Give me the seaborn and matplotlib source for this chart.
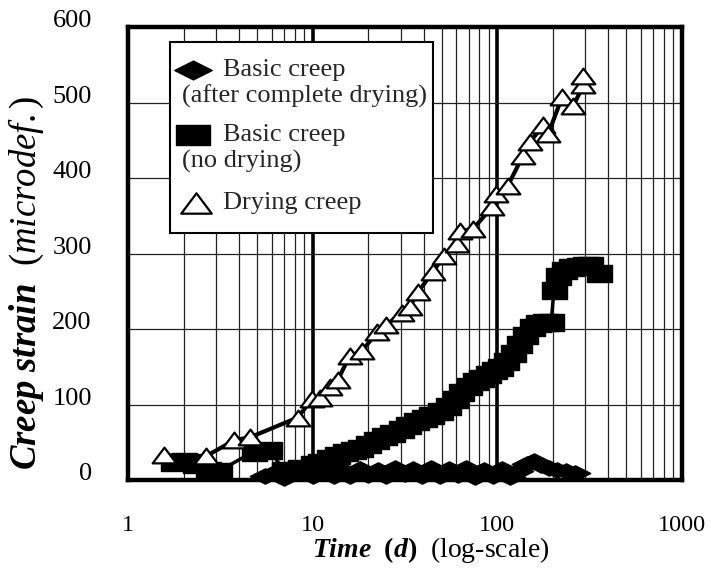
import numpy as np
import pandas as pd
import matplotlib
matplotlib.use("Agg")
import matplotlib.pyplot as plt
from matplotlib.path import Path
from matplotlib.patches import Rectangle
from matplotlib.ticker import FixedLocator, FixedFormatter, NullFormatter, LogLocator
import seaborn as sns

# drying creep (triangles)
dry_t = [1.57, 2.65, 3.77, 4.6, 8.3, 9.9, 10.9, 12.4, 13.7, 15.9, 18.5, 22.3, 24.9,
         30.4, 33.6, 37.2, 44.8, 51.5, 60.7, 63, 74, 94, 98, 114, 138, 150, 178,
         189, 225, 258, 293, 293]
dry_v = [33, 32, 53, 57, 83, 107, 109, 124, 133, 165, 171, 196, 205,
         222, 230, 249, 276, 297, 313, 330, 333, 362, 379, 390, 430, 448, 470,
         459, 508, 496, 523, 535]

# basic creep, no drying (squares)
nod_t = [1.75, 2.0, 2.3, 2.7, 3.1, 4.8, 5.8, 7.0, 8.5, 10, 11, 12.2, 13.5, 15, 16.5,
         18, 20, 22, 24.5, 27, 30, 33, 36.5, 40, 44, 49, 54, 59, 64, 70, 76, 82,
         89, 96, 104, 112, 121, 131, 142, 154, 167, 181, 196, 203, 213, 230, 250,
         276, 300, 320, 354]
nod_v = [24, 26, 21, 14, 12, 38, 40, 14, 16, 21, 24, 29, 34, 37, 40,
         43, 48, 53, 58, 63, 68, 73, 78, 82, 86, 92, 99, 107, 117, 125, 131, 136,
         141, 146, 150, 158, 169, 181, 193, 203, 208, 209, 210, 252, 271, 278, 282,
         284, 285, 285, 274]

# basic creep after complete drying (diamonds)
aft_t = [5.5, 6.2, 7, 8, 9, 10, 11.5, 13, 14.5, 16, 18, 20, 22.5, 25, 28, 31.5, 35,
         39, 44, 49, 55, 61, 68, 76, 85, 95, 106, 118, 130, 145, 158, 172, 190,
         210, 235, 265]
aft_v = [5, 9, 3, 10, 12, 5, 13, 6, 14, 5, 15, 7, 14, 6, 16, 8, 15, 6, 16, 5, 15, 7,
         16, 4, 14, 6, 15, 4, 12, 22, 26, 20, 16, 14, 12, 9]

y_ticks = [0, 100, 200, 300, 400, 500, 600]
x_ticks = [1, 10, 100, 1000]
x_labels = ["1", "10", "100", "1000"]

legend_lines = [
    ("Basic creep", "(after complete drying)"),
    ("Basic creep", "(no drying)"),
    ("Drying creep", None),
]

tri = Path([(-1.5, -1), (1.5, -1), (0, 1), (-1.5, -1)],
           [Path.MOVETO, Path.LINETO, Path.LINETO, Path.CLOSEPOLY])
dia = Path([(-1, 0), (0, 0.5), (1, 0), (0, -0.5), (-1, 0)],
           [Path.MOVETO, Path.LINETO, Path.LINETO, Path.LINETO, Path.CLOSEPOLY])
rect = Path([(-1, -0.68), (1, -0.68), (1, 0.68), (-1, 0.68), (-1, -0.68)],
            [Path.MOVETO, Path.LINETO, Path.LINETO, Path.LINETO, Path.CLOSEPOLY])
rect_leg = Path([(-1, -0.55), (1, -0.55), (1, 0.55), (-1, 0.55), (-1, -0.55)],
                [Path.MOVETO, Path.LINETO, Path.LINETO, Path.LINETO, Path.CLOSEPOLY])

sns.set_theme(style="white")
plt.rcParams["font.family"] = ["Liberation Serif", "DejaVu Serif"]
plt.rcParams["mathtext.fontset"] = "custom"
plt.rcParams["mathtext.rm"] = "Liberation Serif"
plt.rcParams["mathtext.it"] = "Liberation Serif:italic"
plt.rcParams["mathtext.bf"] = "Liberation Serif:bold"
plt.rcParams["mathtext.bfit"] = "Liberation Serif:italic:bold"

fig = plt.figure(figsize=(7.11, 5.69), dpi=100)
ax = fig.add_axes([0.18, 0.156, 0.779, 0.796])

dry = pd.DataFrame({"t": dry_t, "v": dry_v})
nod = pd.DataFrame({"t": nod_t, "v": nod_v})
aft = pd.DataFrame({"t": aft_t, "v": aft_v})

sns.lineplot(data=aft, x="t", y="v", ax=ax, sort=False, estimator=None,
             color="black", lw=2.5, marker=dia, markersize=22,
             markerfacecolor="black", markeredgecolor="black",
             markeredgewidth=1, clip_on=False, zorder=4)
sns.lineplot(data=nod, x="t", y="v", ax=ax, sort=False, estimator=None,
             color="black", lw=2.5, marker=rect, markersize=18,
             markerfacecolor="black", markeredgecolor="black",
             markeredgewidth=1, zorder=5)
sns.lineplot(data=dry, x="t", y="v", ax=ax, sort=False, estimator=None,
             color="black", lw=3, marker=tri, markersize=17,
             markerfacecolor="white", markeredgecolor="black",
             markeredgewidth=1.6, zorder=6)

ax.set_xscale("log")
ax.set_xlim(1, 1000)
ax.set_ylim(0, 600)

ax.xaxis.set_major_locator(FixedLocator(x_ticks))
ax.xaxis.set_major_formatter(FixedFormatter(x_labels))
ax.xaxis.set_minor_locator(LogLocator(base=10, subs=np.arange(2, 10)))
ax.xaxis.set_minor_formatter(NullFormatter())
ax.set_yticks(y_ticks)
ax.set_yticks(np.arange(50, 600, 100), minor=True)

ax.grid(which="major", axis="x", color="black", lw=2.6, zorder=0)
ax.grid(which="minor", axis="x", color="#222222", lw=0.9, zorder=0)
ax.grid(which="major", axis="y", color="#222222", lw=0.9, zorder=0)
ax.set_axisbelow(True)

ax.tick_params(axis="y", which="major", direction="in", length=15, width=3.5,
               pad=26, labelsize=19, colors="black")
ax.tick_params(axis="y", which="minor", direction="in", length=10, width=3.5)
ax.tick_params(axis="x", which="major", direction="out", length=5, width=1.2,
               pad=20, labelsize=17.5, colors="black")
ax.tick_params(axis="x", which="minor", length=0)
for lab in ax.get_yticklabels():
    lab.set_verticalalignment("baseline")

for side in ["left", "right", "top", "bottom"]:
    ax.spines[side].set_visible(True)
    ax.spines[side].set_color("black")
    ax.spines[side].set_linewidth(3.2)

ax.set_xlabel(r"$\mathbfit{Time}\ \ \mathbf{(}\mathbfit{d}\mathbf{)}$  (log-scale)",
              fontsize=20, color="black")
ax.xaxis.set_label_coords(0.547, -0.122)
ax.set_ylabel(r"$\mathbfit{Creep\ strain}\ \ \mathit{(microdef.)}$",
              fontsize=26.5, color="black")
ax.yaxis.set_label_coords(-0.148, 0.435)

# legend box drawn by hand so the second lines sit under the markers
ax.add_patch(Rectangle((0.076, 0.545), 0.475, 0.422, transform=ax.transAxes,
                       facecolor="white", edgecolor="black", lw=1.5, zorder=7))
ax.plot([0.117], [0.905], transform=ax.transAxes, marker=dia, ms=27,
        color="black", zorder=8, clip_on=False)
ax.plot([0.117], [0.762], transform=ax.transAxes, marker=rect_leg, ms=25,
        color="black", zorder=8, clip_on=False)
ax.plot([0.123], [0.611], transform=ax.transAxes, marker=tri, ms=22,
        mfc="white", mec="black", mew=1.6, zorder=8, clip_on=False)

label_y = [0.905, 0.762, 0.611]
for (first, second), yy in zip(legend_lines, label_y):
    ax.text(0.172, yy, first, transform=ax.transAxes, fontsize=19,
            va="center", ha="left", zorder=9)
    if second:
        ax.text(0.097, yy - 0.058, second, transform=ax.transAxes, fontsize=19,
                va="center", ha="left", zorder=9)

fig.savefig("out.png", dpi=100, facecolor="white")
